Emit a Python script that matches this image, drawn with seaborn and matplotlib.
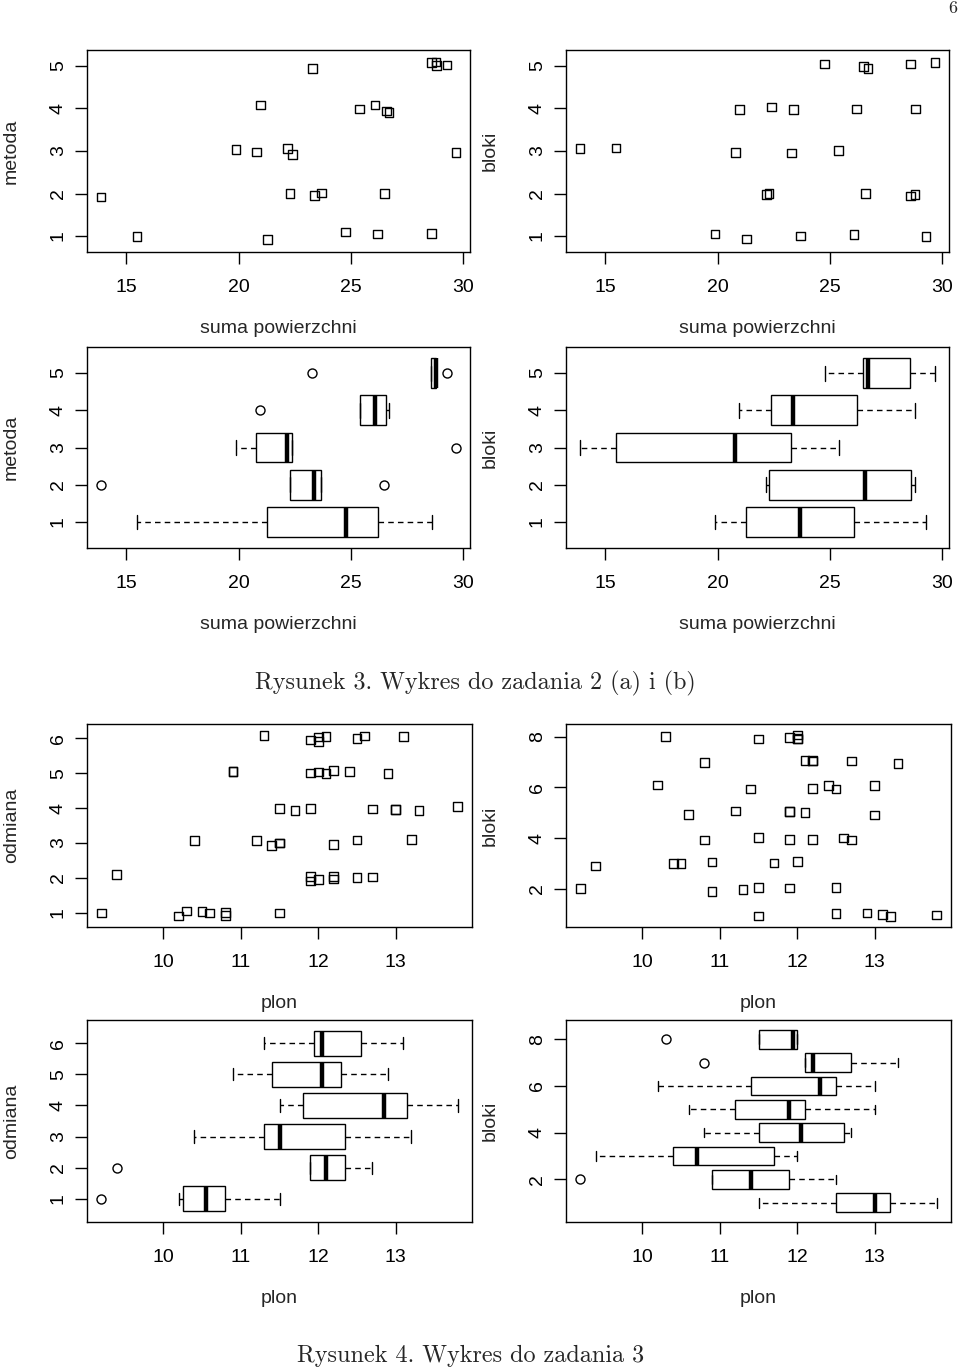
import numpy as np
import pandas as pd
import matplotlib
matplotlib.use("Agg")
import matplotlib.pyplot as plt
import matplotlib.cbook
import seaborn as sns

# Rysunek 3: suma powierzchni, one list per metoda, values for blok 1..5
bloki_3 = [1, 2, 3, 4, 5]
suma_m1 = [21.28, 28.58, 15.48, 26.18, 24.76]
suma_m2 = [23.68, 22.28, 13.88, 23.37, 26.48]
suma_m3 = [19.88, 22.16, 20.78, 22.38, 29.66]
suma_m4 = [26.06, 26.57, 25.38, 20.96, 26.68]
suma_m5 = [29.27, 28.78, 23.28, 28.80, 28.57]

# Rysunek 4: plon, one list per odmiana, values for blok 1..8
bloki_4 = [1, 2, 3, 4, 5, 6, 7, 8]
plon_o1 = [11.5, 9.2, 10.5, 10.8, 10.6, 10.2, 10.8, 10.3]
plon_o2 = [12.5, 11.9, 9.4, 12.2, 11.9, 12.2, 12.7, 12.0]
plon_o3 = [13.2, 12.5, 10.4, 11.5, 11.2, 11.4, 12.2, 11.5]
plon_o4 = [13.8, 11.5, 11.7, 12.7, 13.0, 13.0, 13.3, 11.9]
plon_o5 = [12.9, 10.9, 10.9, 11.9, 12.1, 12.4, 12.2, 12.0]
plon_o6 = [13.1, 11.3, 12.0, 12.6, 11.9, 12.5, 12.1, 12.0]

rows3 = []
for m, vals in enumerate([suma_m1, suma_m2, suma_m3, suma_m4, suma_m5], start=1):
    for b, v in zip(bloki_3, vals):
        rows3.append({"metoda": m, "bloki": b, "suma powierzchni": v})
df3 = pd.DataFrame(rows3)

rows4 = []
for o, vals in enumerate([plon_o1, plon_o2, plon_o3, plon_o4, plon_o5, plon_o6], start=1):
    for b, v in zip(bloki_4, vals):
        rows4.append({"odmiana": o, "bloki": b, "plon": v})
df4 = pd.DataFrame(rows4)


# R's boxplot uses Tukey hinges (fivenum) instead of percentiles
_mpl_boxplot_stats = matplotlib.cbook.boxplot_stats


def tukey_boxplot_stats(X, whis=1.5, **kw):
    out = _mpl_boxplot_stats(X, whis=whis, **kw)
    for st, x in zip(out, X):
        x = np.sort(np.asarray(x, dtype=float))
        n = len(x)
        n4 = np.floor((n + 3) / 2) / 2
        d = np.array([1, n4, (n + 1) / 2, n + 1 - n4, n])
        five = 0.5 * (x[np.floor(d).astype(int) - 1] + x[np.ceil(d).astype(int) - 1])
        q1, med, q3 = five[1], five[2], five[3]
        iqr = q3 - q1
        lo, hi = q1 - whis * iqr, q3 + whis * iqr
        inside = x[(x >= lo) & (x <= hi)]
        st.update(q1=q1, med=med, q3=q3, iqr=iqr,
                  whislo=inside.min(), whishi=inside.max(),
                  fliers=x[(x < lo) | (x > hi)])
    return out


matplotlib.cbook.boxplot_stats = tukey_boxplot_stats

sns.set_theme(style="ticks", rc={"axes.edgecolor": "black", "axes.linewidth": 1.0,
                                 "xtick.color": "black", "ytick.color": "black"})
plt.rcParams["font.family"] = ["Liberation Sans", "DejaVu Sans"]

W, H = 960, 1370
fig = plt.figure(figsize=(W / 100, H / 100), dpi=100)
np.random.seed(7)  # jitter only


def panel(l, r, t, b):
    return fig.add_axes([l / W, 1 - b / H, (r - l) / W, (b - t) / H])


def r_lim(lo, hi):
    span = hi - lo
    return lo - 0.04 * span, hi + 0.04 * span


def style(ax, xcol, ycol, xticks, yticks, ylim, data, px_h):
    ax.set_xlim(*r_lim(data[xcol].min(), data[xcol].max()))
    ax.set_ylim(*ylim)
    ax.set_xticks(xticks, [str(t) for t in xticks])
    ax.set_yticks(yticks, [str(t) for t in yticks])
    ax.tick_params(axis="both", length=8.5, width=1, labelsize=14, direction="out")
    ax.tick_params(axis="x", pad=11)
    ax.tick_params(axis="y", pad=6, labelrotation=90)
    for lab in ax.get_yticklabels():
        lab.set_va("center")
    for sp in ax.spines.values():
        sp.set_visible(True)
        sp.set_color("black")
    ax.set_xlabel(xcol, fontsize=14)
    ax.set_ylabel(ycol, fontsize=14)
    ax.xaxis.label.set_va("baseline")
    ax.xaxis.set_label_coords(0.5, -81 / px_h)
    ax.yaxis.label.set_va("baseline")
    ax.yaxis.set_label_coords(-71 / 383, 0.5)
    ax.grid(False)


def strip(ax, data, x, y):
    sns.stripplot(data=data, x=x, y=y, orient="h", native_scale=True, jitter=0.1,
                  marker="s", size=6.2, color="black", facecolors="none",
                  edgecolor="black", linewidth=1, ax=ax)


def box(ax, data, x, y):
    sns.boxplot(data=data, x=x, y=y, orient="h", native_scale=True, width=0.8,
                whis=1.5, color="white", linecolor="black", linewidth=1,
                fliersize=6.5, capwidths=0.4,
                boxprops=dict(facecolor="white", edgecolor="black", linewidth=1),
                medianprops=dict(color="black", linewidth=3.2),
                whiskerprops=dict(color="black", linewidth=1, linestyle=(0, (4, 3))),
                capprops=dict(color="black", linewidth=1),
                flierprops=dict(marker="o", markerfacecolor="none",
                                markeredgecolor="black", markersize=6.5, markeredgewidth=1),
                ax=ax)


def strip_lim(n):
    return 0.8 - 0.04 * (n - 0.6), n + 0.2 + 0.04 * (n - 0.6)


def box_lim(n):
    return 0.5 - 0.04 * n, n + 0.5 + 0.04 * n


# Rysunek 3
ax = panel(87, 470, 50, 252)
strip(ax, df3, "suma powierzchni", "metoda")
style(ax, "suma powierzchni", "metoda", [15, 20, 25, 30], [1, 2, 3, 4, 5], strip_lim(5), df3, 202)

ax = panel(566, 949, 50, 252)
strip(ax, df3, "suma powierzchni", "bloki")
style(ax, "suma powierzchni", "bloki", [15, 20, 25, 30], [1, 2, 3, 4, 5], strip_lim(5), df3, 202)

ax = panel(87, 470, 347, 548)
box(ax, df3, "suma powierzchni", "metoda")
style(ax, "suma powierzchni", "metoda", [15, 20, 25, 30], [1, 2, 3, 4, 5], box_lim(5), df3, 201)

ax = panel(566, 949, 347, 548)
box(ax, df3, "suma powierzchni", "bloki")
style(ax, "suma powierzchni", "bloki", [15, 20, 25, 30], [1, 2, 3, 4, 5], box_lim(5), df3, 201)

# Rysunek 4
ax = panel(87, 472, 724, 927)
strip(ax, df4, "plon", "odmiana")
style(ax, "plon", "odmiana", [10, 11, 12, 13], [1, 2, 3, 4, 5, 6], strip_lim(6), df4, 203)

ax = panel(566, 951, 724, 927)
strip(ax, df4, "plon", "bloki")
style(ax, "plon", "bloki", [10, 11, 12, 13], [2, 4, 6, 8], strip_lim(8), df4, 203)

ax = panel(87, 472, 1020, 1222)
box(ax, df4, "plon", "odmiana")
style(ax, "plon", "odmiana", [10, 11, 12, 13], [1, 2, 3, 4, 5, 6], box_lim(6), df4, 202)

ax = panel(566, 951, 1020, 1222)
box(ax, df4, "plon", "bloki")
style(ax, "plon", "bloki", [10, 11, 12, 13], [2, 4, 6, 8], box_lim(8), df4, 202)

# page number and captions
fig.text(953 / W, 1 - 8 / H, "6", fontsize=13, family="cmr10", ha="center", va="center")
fig.text(475 / W, 1 - 683 / H, "Rysunek 3. Wykres do zadania 2 (a) i (b)",
         fontsize=17.4, family="cmr10", ha="center", va="center")
fig.text(471 / W, 1 - 1356 / H, "Rysunek 4. Wykres do zadania 3",
         fontsize=17.4, family="cmr10", ha="center", va="center")

fig.savefig("out.png", dpi=100, facecolor="white")
